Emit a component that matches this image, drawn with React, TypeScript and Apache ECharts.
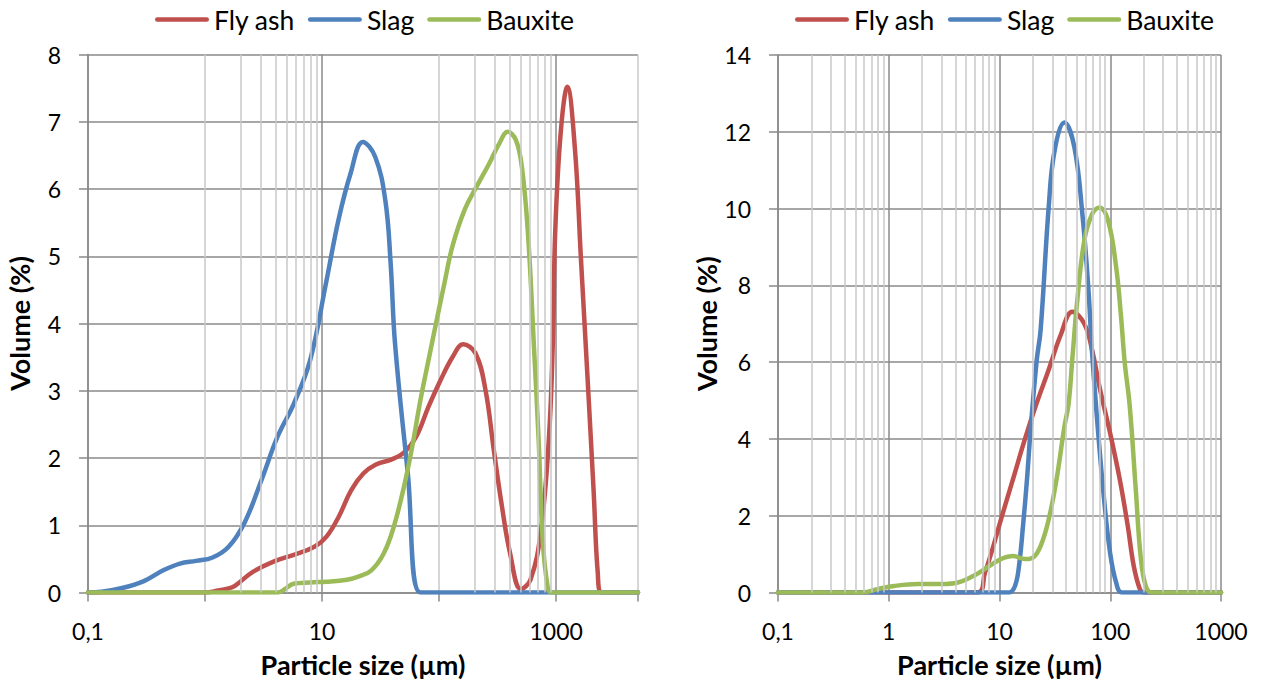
import React, { useEffect, useRef } from 'react';
import * as echarts from 'echarts';

const SERIES_NAMES = ['Fly ash', 'Slag', 'Bauxite'];
const COLORS = ['#C0504D', '#4F81BD', '#9BBB59'];

// ---- Left chart (x: 0.1 .. 5000 µm, y: 0..8 %) ----
const leftFlyAshSize = [0.1, 1.0, 1.3, 1.59, 1.8, 2.58, 3.85, 5.74, 8.6, 10.9, 13.9, 17.7, 22.5, 28.6, 39.4, 50, 63.8, 81, 103, 131, 160, 204, 249, 293, 344, 404, 500, 603, 736, 865, 937, 980, 1092, 1245, 1445, 1629, 1845, 2090, 2264, 2450, 5000];
const leftFlyAshVol = [0, 0, 0.03, 0.06, 0.1, 0.31, 0.46, 0.56, 0.68, 0.83, 1.13, 1.52, 1.77, 1.9, 1.98, 2.08, 2.32, 2.76, 3.16, 3.51, 3.69, 3.56, 3.01, 2.12, 1.28, 0.58, 0.05, 0.19, 0.88, 2.27, 3.75, 5.34, 6.83, 7.52, 6.6, 4.95, 3.25, 1.5, 0.3, 0, 0];

const leftSlagSize = [0.1, 0.13, 0.2, 0.3, 0.44, 0.61, 0.84, 1.16, 1.59, 2.19, 3.03, 4.17, 5.74, 7.92, 10.8, 13.8, 17.5, 22.3, 28.4, 34.7, 38.5, 42, 54, 69, 100, 5000];
const leftSlagVol = [0, 0.01, 0.07, 0.17, 0.33, 0.43, 0.47, 0.52, 0.68, 1.05, 1.67, 2.32, 2.81, 3.46, 4.6, 5.54, 6.23, 6.7, 6.48, 5.83, 4.9, 3.7, 1.77, 0, 0, 0];

const leftBauxiteSize = [0.1, 4.2, 4.9, 5.7, 7.9, 10.9, 16.3, 20.7, 26.4, 33.6, 41, 50, 58.9, 69.2, 81, 94, 111, 130, 166, 211, 268, 327, 385, 452, 509, 574, 648, 708, 767, 850, 910, 5000];
const leftBauxiteVol = [0, 0, 0.06, 0.13, 0.15, 0.16, 0.19, 0.24, 0.33, 0.58, 0.98, 1.57, 2.17, 2.86, 3.45, 4.0, 4.6, 5.15, 5.7, 6.05, 6.38, 6.68, 6.85, 6.73, 6.33, 5.34, 3.6, 2.27, 0.78, 0.06, 0, 0];

// ---- Right chart (x: 0.1 .. 1000 µm, y: 0..14 %) ----
const rightFlyAshSize = [0.1, 6.3, 7.4, 8.8, 10.3, 13.2, 16.9, 21.7, 27.8, 35.6, 45.5, 58.3, 68.7, 81, 99.6, 122, 144, 163, 185, 200, 1000];
const rightFlyAshVol = [0, 0, 0.52, 1.21, 1.9, 2.94, 3.98, 4.94, 5.8, 6.7, 7.31, 7.0, 6.3, 5.28, 4.16, 2.94, 1.73, 0.69, 0.09, 0, 0];

const rightSlagSize = [0.1, 12.2, 13.8, 15, 16.3, 17.7, 19.2, 21.7, 23.5, 27.8, 31.4, 38.6, 47.4, 56, 63.3, 68.7, 77.8, 88, 99.6, 113, 128, 1000];
const rightSlagVol = [0, 0, 0.17, 0.69, 1.73, 2.94, 4.33, 6.06, 6.83, 10.03, 11.5, 12.24, 11.6, 9.86, 7.96, 6.2, 4.16, 2.42, 1.04, 0.26, 0, 0];

const rightBauxiteSize = [0.1, 0.58, 0.8, 1.12, 1.83, 3.0, 4.2, 5.8, 8.1, 10.3, 13.2, 16.9, 20, 23.5, 27.8, 32.7, 38.6, 42, 45.5, 50, 58.3, 68.7, 79.8, 95.5, 113, 125, 135, 150, 170, 188, 209, 237, 1000];
const rightBauxiteVol = [0, 0, 0.09, 0.17, 0.22, 0.22, 0.26, 0.43, 0.69, 0.87, 0.95, 0.87, 0.91, 1.21, 1.9, 2.94, 4.33, 4.9, 6.1, 7.5, 9.17, 9.86, 10.03, 9.69, 8.48, 7.2, 6.0, 4.85, 2.68, 0.95, 0.17, 0, 0];

// Minor (light) vertical gridlines
const leftMinorTicks = [2, 3, 4, 5, 6, 7, 8, 9, 200, 300, 400, 500, 600, 700, 800, 900];
const rightMinorTicks = [0.2, 0.3, 0.4, 0.5, 0.6, 0.7, 0.8, 0.9, 2, 3, 4, 5, 6, 7, 8, 9, 20, 30, 40, 50, 60, 70, 80, 90, 200, 300, 400, 500, 600, 700, 800, 900];

const leftXMin = 0.1, leftXMax = 5000, leftYMax = 8, leftYStep = 1;
const rightXMin = 0.1, rightXMax = 1000, rightYMax = 14, rightYStep = 2;

const FONT = 'Lato';
const DARK = '#8a8a8a';
const LIGHT = '#c8c8c8';
const LEGEND_ICON = 'path://M2.25,0H51.75A2.25,2.25,0,0,1,51.75,4.5H2.25A2.25,2.25,0,0,1,2.25,0Z';

const zip = (xs: number[], ys: number[]) => xs.map((x, i) => [x, ys[i]]);

const fmtX = (shown: number[]) => (v: number) => {
  const e = Math.round(Math.log10(v) * 1000) / 1000;
  if (!shown.some((s) => Math.abs(Math.log10(s) - e) < 1e-3)) return '';
  if (Math.abs(e + 1) < 1e-3) return '0,1';
  return String(Math.round(Math.pow(10, e)));
};

function xAxis(gridIndex: number, min: number, max: number, shown: number[], colors: string[]) {
  return {
    type: 'log',
    logBase: 10,
    gridIndex,
    min,
    max,
    name: 'Particle size (µm)',
    nameLocation: 'middle',
    nameGap: 58,
    nameTextStyle: { fontFamily: FONT, fontSize: 27, fontWeight: 'bold', color: '#000' },
    axisLine: { show: true, lineStyle: { color: DARK, width: 1.5 } },
    axisTick: { show: true, inside: false, length: 9, lineStyle: { color: DARK, width: 1.5 } },
    axisLabel: { formatter: fmtX(shown), fontFamily: FONT, fontSize: 23, color: '#000', margin: 27, showMaxLabel: true },
    splitLine: { show: true, lineStyle: { color: colors, width: 1.5 } },
    minorTick: { show: false },
  };
}

function yAxis(gridIndex: number, max: number, step: number) {
  return {
    type: 'value',
    gridIndex,
    min: 0,
    max,
    interval: step,
    name: 'Volume (%)',
    nameLocation: 'middle',
    nameRotate: 90,
    nameGap: 55,
    nameTextStyle: { fontFamily: FONT, fontSize: 27, fontWeight: 'bold', color: '#000' },
    axisLine: { show: true, lineStyle: { color: DARK, width: 1.5 } },
    axisTick: { show: true, inside: false, length: 9, lineStyle: { color: DARK, width: 1.5 } },
    axisLabel: { fontFamily: FONT, fontSize: 23, color: '#000', margin: 27 },
    splitLine: { show: true, lineStyle: { color: DARK, width: 1.5 } },
  };
}

function dataSeries(name: string, color: string, idx: number, xs: number[], ys: number[]) {
  return {
    type: 'line',
    name,
    xAxisIndex: idx,
    yAxisIndex: idx,
    data: zip(xs, ys),
    smooth: 0.4,
    showSymbol: false,
    symbol: 'none',
    clip: true,
    z: 3,
    lineStyle: { width: 4.5, color, cap: 'round', join: 'round' },
    itemStyle: { color },
  };
}

function gridSeries(idx: number, xmin: number, ticks: number[]) {
  return {
    type: 'line',
    xAxisIndex: idx,
    yAxisIndex: idx,
    data: [[xmin, 0]],
    symbol: 'none',
    showSymbol: false,
    silent: true,
    z: 1,
    lineStyle: { opacity: 0 },
    markLine: {
      silent: true,
      symbol: ['none', 'none'],
      label: { show: false },
      lineStyle: { color: LIGHT, width: 1.5, type: 'solid' },
      emphasis: { disabled: true },
      data: ticks.map((v) => ({ xAxis: v })),
    },
  };
}

function legend(left: number) {
  return {
    data: SERIES_NAMES.map((n) => ({ name: n, icon: LEGEND_ICON })),
    left,
    top: 6,
    padding: 0,
    itemWidth: 54,
    itemHeight: 4.5,
    itemGap: 13,
    selectedMode: false,
    textStyle: { fontFamily: FONT, fontSize: 26.5, color: '#000' },
  };
}

export default function App() {
  const ref = useRef<HTMLDivElement>(null);
  useEffect(() => {
    if (!ref.current) return;
    const chart = echarts.init(ref.current, undefined, { renderer: 'svg' });
    const option = {
      animation: false,
      textStyle: { fontFamily: FONT },
      legend: [legend(155), legend(795)],
      grid: [
        { left: 88, top: 54.5, width: 550, height: 538 },
        { left: 778, top: 55, width: 443, height: 537.5 },
      ],
      xAxis: [
        xAxis(0, leftXMin, leftXMax, [0.1, 10, 1000], [DARK, LIGHT]),
        xAxis(1, rightXMin, rightXMax, [0.1, 1, 10, 100, 1000], [DARK]),
      ],
      yAxis: [yAxis(0, leftYMax, leftYStep), yAxis(1, rightYMax, rightYStep)],
      series: [
        gridSeries(0, leftXMin, leftMinorTicks),
        gridSeries(1, rightXMin, rightMinorTicks),
        dataSeries(SERIES_NAMES[0], COLORS[0], 0, leftFlyAshSize, leftFlyAshVol),
        dataSeries(SERIES_NAMES[1], COLORS[1], 0, leftSlagSize, leftSlagVol),
        dataSeries(SERIES_NAMES[2], COLORS[2], 0, leftBauxiteSize, leftBauxiteVol),
        dataSeries(SERIES_NAMES[0], COLORS[0], 1, rightFlyAshSize, rightFlyAshVol),
        dataSeries(SERIES_NAMES[1], COLORS[1], 1, rightSlagSize, rightSlagVol),
        dataSeries(SERIES_NAMES[2], COLORS[2], 1, rightBauxiteSize, rightBauxiteVol),
      ],
    };
    chart.setOption(option as any);
    return () => chart.dispose();
  }, []);
  return (
    <div
      ref={ref}
      style={{ position: 'absolute', left: 0, top: 0, width: 1262, height: 689, background: '#fff' }}
    />
  );
}
